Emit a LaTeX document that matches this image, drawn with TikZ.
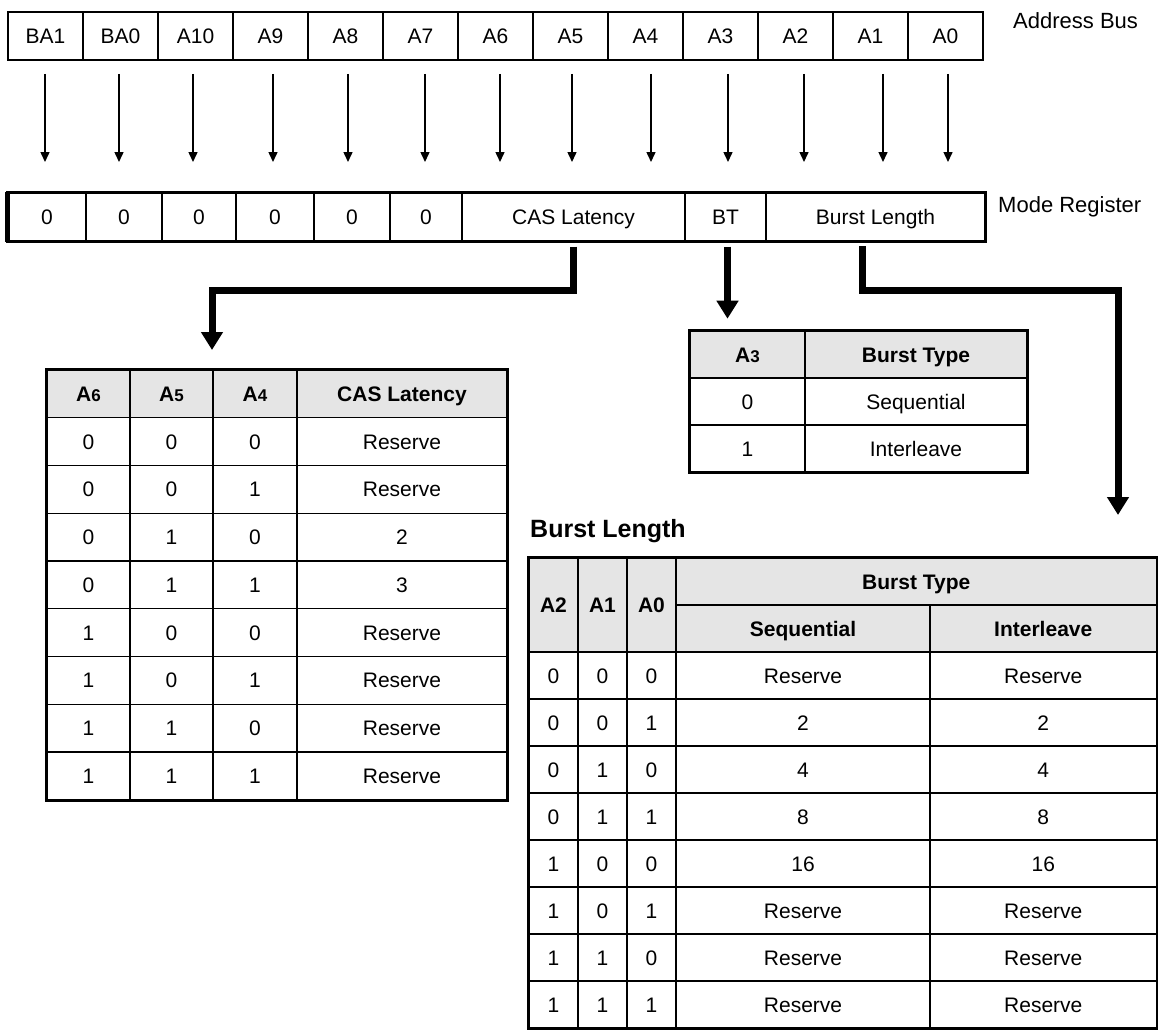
\documentclass[tikz,border=0pt]{standalone}
\usepackage{fontspec}
\setmainfont{Liberation Sans}
\usetikzlibrary{arrows.meta, positioning, calc}

\newcommand{\cellfont}{\fontsize{21}{25}\selectfont}
\newcommand{\smdigit}[1]{{\fontsize{17}{20}\selectfont #1}}

\begin{document}
\begin{tikzpicture}[x=1pt, y=-1pt,
    cell/.style={draw, line width=1.4pt, inner sep=0pt, font=\cellfont, text height=15pt, text depth=0pt},
    hcell/.style={cell, fill=black!10, font=\cellfont\bfseries},
    frame/.style={line width=2.6pt},
    busarr/.style={line width=1.5pt, -{Triangle[length=10pt, width=9pt]}},
    bigarr/.style={line width=7pt, line join=miter, -{Triangle[length=18pt, width=21pt]}},
    lbl/.style={font=\fontsize{22}{26}\selectfont, anchor=base west, inner sep=0pt}
  ]
  \useasboundingbox (0,0) rectangle (1158,1030);

  % address bus
  \foreach \name [count=\i from 0] in {BA1,BA0,A10,A9,A8,A7,A6,A5,A4,A3,A2,A1,A0}
    \node[cell, minimum width=75, minimum height=48] (bus\i) at ({45.5+75*\i}, 36) {\name};
  \node[lbl] (buslbl) at (1013, 29) {Address Bus};

  % bus lines down to the register
  \foreach \x [count=\i from 0] in {45,119,193,273,348,425,500,572,651,728,804,883,948} {
    \coordinate (src\i) at (\x, 74);
    \coordinate (dst\i) at (\x, 162);
    \draw[busarr] (src\i) -- (dst\i);
  }

  % mode register
  \foreach \l/\r/\name [count=\i] in {8/86/0, 86/162/0, 162/236/0, 236/314/0, 314/390/0, 390/462/0,
      462/685/CAS Latency, 685/766/BT, 766/985/Burst Length}
    \node[cell, minimum width={\r-\l}, minimum height=48] (reg\i) at ({(\l+\r)/2}, 217) {\name};
  \draw[frame] (reg1.north west) rectangle (reg9.south east);
  \draw[line width=4.5pt] (reg1.north west) -- (reg1.south west);
  \node[lbl] (reglbl) at (998, 212) {Mode Register};

  % thick connectors
  \coordinate (casdrop) at ($(reg7.south)+(0,5)$);
  \coordinate (casturn) at (212, 290);
  \coordinate (cashead) at (212, 350);
  \draw[bigarr] (casdrop) |- (casturn) -- (cashead);

  \coordinate (btdrop) at ($(reg8.south)+(2,5)$);
  \coordinate (bthead) at ($(btdrop)+(0,72)$);
  \draw[bigarr] (btdrop) -- (bthead);

  \coordinate (bldrop) at (862, 246);
  \coordinate (blturn) at (1118, 290);
  \coordinate (blhead) at (1118, 515);
  \draw[bigarr] (bldrop) |- (blturn) -- (blhead);

  % CAS latency table
  \foreach \x/\w/\name [count=\i] in {88.5/83/A\smdigit{6}, 171.5/83/A\smdigit{5}, 255/84/A\smdigit{4}, 402/210/CAS Latency}
    \node[hcell, minimum width=\w, minimum height=47.75] (cash\i) at (\x, 393.875) {\name};
  \foreach \a/\b/\c/\v [count=\r] in {0/0/0/Reserve, 0/0/1/Reserve, 0/1/0/2, 0/1/1/3,
      1/0/0/Reserve, 1/0/1/Reserve, 1/1/0/Reserve, 1/1/1/Reserve} {
    \node[cell, minimum width=83, minimum height=47.75] (cas-\r-1) at (88.5, {393.875+47.75*\r}) {\a};
    \node[cell, minimum width=83, minimum height=47.75] (cas-\r-2) at (171.5, {393.875+47.75*\r}) {\b};
    \node[cell, minimum width=84, minimum height=47.75] (cas-\r-3) at (255, {393.875+47.75*\r}) {\c};
    \node[cell, minimum width=210, minimum height=47.75] (cas-\r-4) at (402, {393.875+47.75*\r}) {\v};
  }
  \draw[frame] (cash1.north west) rectangle (cas-8-4.south east);

  % burst type table
  \node[hcell, minimum width=115, minimum height=47] (bth1) at (747.5, 354.5) {A\smdigit{3}};
  \node[hcell, minimum width=222, minimum height=47] (bth2) at (916, 354.5) {Burst Type};
  \foreach \a/\v [count=\r] in {0/Sequential, 1/Interleave} {
    \node[cell, minimum width=115, minimum height=47] (bt-\r-1) at (747.5, {354.5+47*\r}) {\a};
    \node[cell, minimum width=222, minimum height=47] (bt-\r-2) at (916, {354.5+47*\r}) {\v};
  }
  \draw[frame] (bth1.north west) rectangle (bt-2-2.south east);

  % burst length table
  \node[font=\fontsize{25}{30}\selectfont\bfseries, anchor=base west, inner sep=0pt] (bltitle) at (530, 537) {Burst Length};
  \foreach \x/\name [count=\i] in {553.5/A2, 602.5/A1, 651.5/A0}
    \node[hcell, minimum width=49, minimum height=94] (blh\i) at (\x, 605) {\name};
  \node[hcell, minimum width=480.5, minimum height=47] (bltype) at (916.25, 581.5) {Burst Type};
  \node[hcell, minimum width=254, minimum height=47] (blseq) at (803, 628.5) {Sequential};
  \node[hcell, minimum width=226.5, minimum height=47] (blint) at (1043.25, 628.5) {Interleave};
  \foreach \a/\b/\c/\s/\v [count=\r] in {0/0/0/Reserve/Reserve, 0/0/1/2/2, 0/1/0/4/4, 0/1/1/8/8,
      1/0/0/16/16, 1/0/1/Reserve/Reserve, 1/1/0/Reserve/Reserve, 1/1/1/Reserve/Reserve} {
    \node[cell, minimum width=49, minimum height=47] (bl-\r-1) at (553.5, {628.5+47*\r}) {\a};
    \node[cell, minimum width=49, minimum height=47] (bl-\r-2) at (602.5, {628.5+47*\r}) {\b};
    \node[cell, minimum width=49, minimum height=47] (bl-\r-3) at (651.5, {628.5+47*\r}) {\c};
    \node[cell, minimum width=254, minimum height=47] (bl-\r-4) at (803, {628.5+47*\r}) {\s};
    \node[cell, minimum width=226.5, minimum height=47] (bl-\r-5) at (1043.25, {628.5+47*\r}) {\v};
  }
  \draw[frame] (blh1.north west) rectangle (bl-8-5.south east);
\end{tikzpicture}
\end{document}
